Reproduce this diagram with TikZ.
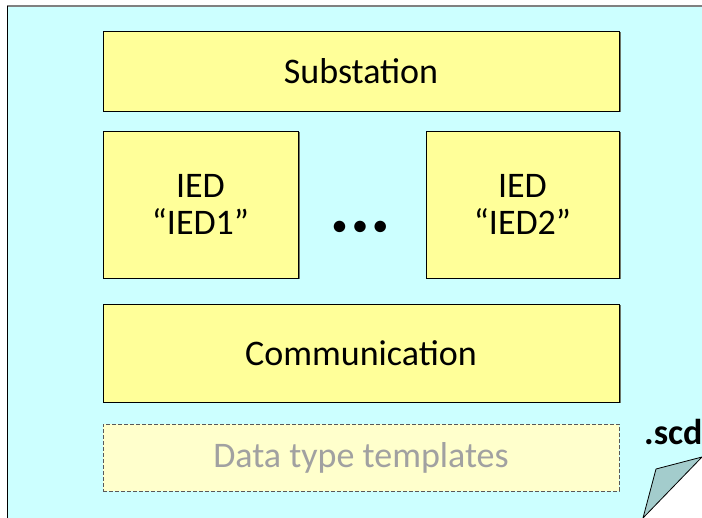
\documentclass[tikz,border=0pt]{standalone}
\usepackage{fontspec}
\setmainfont{Carlito}
\usepackage{xcolor}
\usetikzlibrary{
  shadows,
  positioning,
}
\definecolor{pagecyan}{HTML}{CCFFFF}
\definecolor{boxyellow}{HTML}{FFFF99}
\definecolor{paleyellow}{HTML}{FFFFCC}
\definecolor{foldteal}{HTML}{A3CCCC}
\definecolor{shadowgray}{HTML}{6E776A}
\tikzset{
  block/.style = {
      rectangle,
      draw=black,
      fill=boxyellow,
      line width=.8pt,
      minimum width=#1,
      inner sep=0pt, outer sep=0pt,
      align=center,
      font=\fontsize{36}{37}\selectfont,
      drop shadow={shadow xshift=1.5pt, shadow yshift=-1.5pt,
        fill=shadowgray, opacity=1},
    },
  block/.default = 516pt,
  ghost/.style = {
      rectangle,
      draw=black!65,
      dash pattern=on 4pt off 2pt,
      line width=.8pt,
      fill=paleyellow,
      minimum width=516pt,
      minimum height=67pt,
      inner sep=0pt, outer sep=0pt,
      text=black!37,
      font=\fontsize{36}{37}\selectfont,
    },
  fold/.style = {
      fill=foldteal,
      draw=black,
      line width=.8pt,
      line join=round,
    },
}

\begin{document}
\begin{tikzpicture}[x=1pt, y=-1pt]
    \useasboundingbox (0,0) rectangle (702,518);
    % page with cut corner
    \fill[pagecyan] (7,6) -- (703,6) -- (702,457) -- (643,518) -- (7,518) -- cycle;
    \draw[gray, line width=2pt] (7,6) -- (702,6);
    \draw[black, line width=1pt] (7.5,6) -- (7.5,518);
    \filldraw[fold] (643,518) -- (656,469) -- (702,457) -- cycle;

    \node[block, minimum height=80pt] (sub) at (361,71) {Substation};
    \node[block=195pt, minimum height=147pt] (ied1) at (200.5,204.5) {IED\\“IED1”};
    \node[block=193pt, minimum height=147pt] (ied2) at (522.5,204.5) {IED\\“IED2”};
    \node[anchor=base, inner sep=0pt, font=\fontsize{27}{29}\selectfont\bfseries] (dots) at (360,235) {•\kern7pt•\kern7pt•};
    \node[block, minimum height=98pt] (comm) at (361,353) {Communication};
    \node[ghost] (dtt) at (361,457.5) {Data type templates};
    \node[anchor=base west, inner sep=0pt, font=\fontsize{36}{38}\selectfont\bfseries] (scd) at (644,445) {.scd};
  \end{tikzpicture}
\end{document}
